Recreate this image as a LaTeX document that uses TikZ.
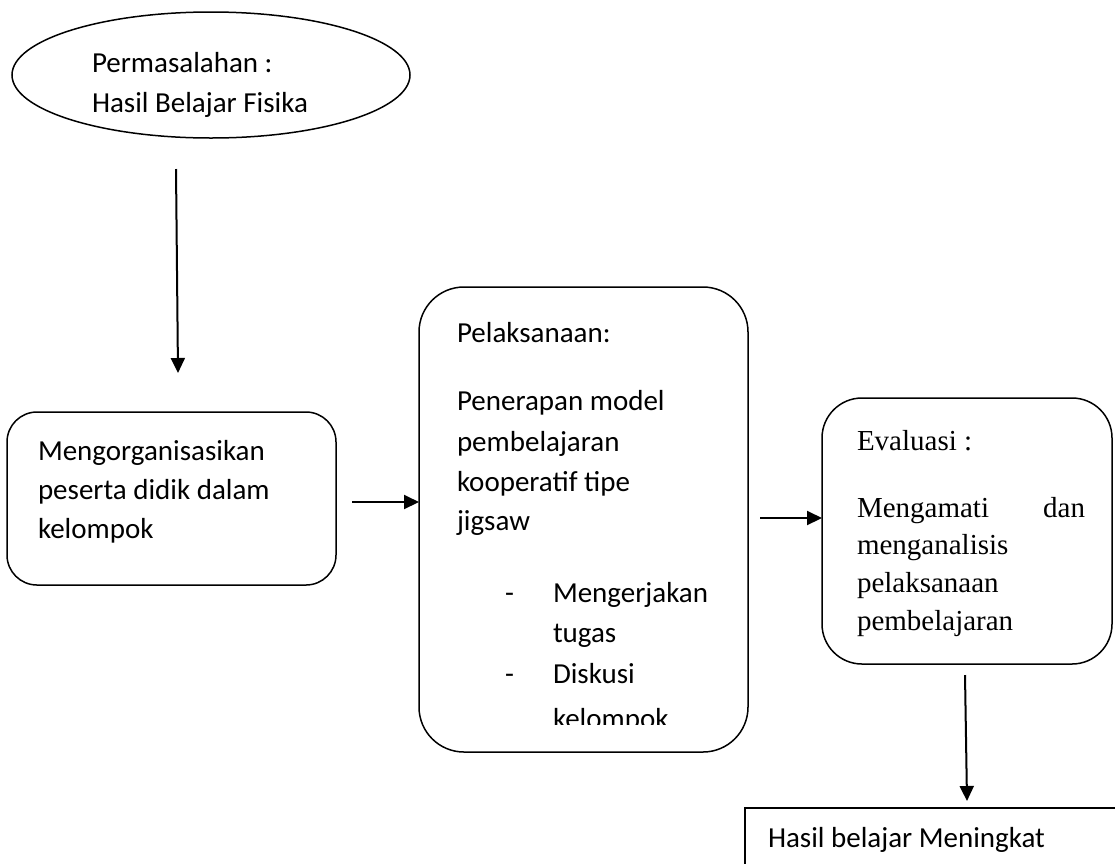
\documentclass[tikz,border=0pt]{standalone}
\usepackage{fontspec}
\newfontfamily\carlito{Carlito}
\newfontfamily\lserif{Liberation Serif}
\usetikzlibrary{shapes.geometric,arrows.meta}
\tikzset{
  shapebox/.style={draw, line width=1.5pt, inner sep=0pt, outer sep=0pt},
  roundbox/.style={shapebox, rectangle, rounded corners=#1},
  txt/.style={anchor=base west, inner sep=0pt, outer sep=0pt, font=\carlito\fontsize{29}{35}\selectfont},
  stxt/.style={anchor=base west, inner sep=0pt, outer sep=0pt, font=\lserif\fontsize{29}{35}\selectfont},
  arr/.style={line width=2pt, -{Triangle[length=15pt,width=14pt]}}
}
\begin{document}
\begin{tikzpicture}[x=1pt,y=-1pt]
\clip (0,0) rectangle (1115,863);
\fill[white] (0,0) rectangle (1115,863);
% ellipse
\node[shapebox, ellipse, minimum width=398pt, minimum height=126pt] (ell) at (211,75) {};
\node[txt] (t1) at (92,72) {Permasalahan :};
\node[txt] (t2) at (92,112) {Hasil Belajar Fisika};
% box 1
\node[roundbox=30pt, minimum width=329pt, minimum height=173pt] (b1) at (171.5,498.5) {};
\node[txt] (b1a) at (38,460) {Mengorganisasikan};
\node[txt] (b1b) at (38,499) {peserta didik dalam};
\node[txt] (b1c) at (38,538) {kelompok};
% box 2
\node[roundbox=45pt, minimum width=329pt, minimum height=465pt] (b2) at (583.5,519.5) {};
\node[txt] (b2a) at (457,342) {Pelaksanaan:};
\node[txt] (b2b) at (457,410) {Penerapan model};
\node[txt] (b2c) at (457,451) {pembelajaran};
\node[txt] (b2d) at (457,491) {kooperatif tipe};
\node[txt] (b2e) at (457,530) {jigsaw};
\node[txt] (b2f) at (505,602) {-};
\node[txt] (b2g) at (553,602) {Mengerjakan};
\node[txt] (b2h) at (553,642) {tugas};
\node[txt] (b2i) at (505,683) {-};
\node[txt] (b2j) at (553,683) {Diskusi};
\begin{scope}
\clip (419,287) rectangle (748,724);
\node[txt] (b2k) at (553,728) {kelompok};
\end{scope}
% box 3
\node[roundbox=40pt, minimum width=290pt, minimum height=266pt] (b3) at (967,531) {};
\node[stxt] (b3a) at (857,450) {Evaluasi :};
\node[stxt] (b3b) at (857,517) {\makebox[228pt][l]{Mengamati\hfill dan}};
\node[stxt] (b3c) at (857,554) {menganalisis};
\node[stxt] (b3d) at (857,592) {pelaksanaan};
\node[stxt] (b3e) at (857,630) {pembelajaran};
% box 4
\node[shapebox, rectangle, minimum width=400pt, minimum height=80pt] (b4) at (945,848) {};
\node[txt] (b4a) at (768,847) {Hasil belajar Meningkat};
% connectors
\coordinate (a1s) at (176,169);
\coordinate (a1e) at (178,373);
\coordinate (a2s) at (352,502);
\coordinate (a3s) at (760,518);
\coordinate (a4s) at (965,675);
\coordinate (a4e) at (967,801);
\draw[arr] (a1s) -- (a1e);
\draw[arr] (a2s) -- (a2s -| b2.west);
\draw[arr] (a3s) -- (a3s -| b3.west);
\draw[arr] (a4s) -- (a4e);
\end{tikzpicture}
\end{document}
